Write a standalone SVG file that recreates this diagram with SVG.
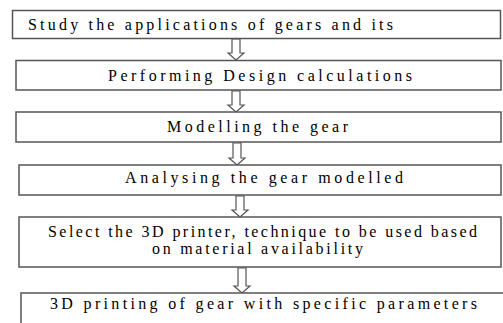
<svg xmlns="http://www.w3.org/2000/svg" width="503" height="323" viewBox="0 0 503 323">
<style>
.box{fill:#fff;stroke:#555;stroke-width:1.5}
.arr{fill:#fff;stroke:#555;stroke-width:1.2}
</style>
<rect width="503" height="323" fill="#fff"/>
<g id="connectors">
<path class="arr" d="M232,39 V53 H228 L236,60 L244,53 H240 V39 Z"/>
<path class="arr" d="M232,91 V105 H228 L236,112 L244,105 H240 V91 Z"/>
<path class="arr" d="M233,143 V158 H229 L237,165 L245,158 H241 V143 Z"/>
<path class="arr" d="M236,196 V210 H232 L240,217 L248,210 H244 V196 Z"/>
<path class="arr" d="M238,268 V286 H234 L242,293 L250,286 H246 V268 Z"/>
</g>
<g font-family="Liberation Serif, Times New Roman, serif" font-size="16" fill="#000">
<g id="n1">
<rect class="box" x="12.5" y="10.5" width="488" height="28"/>
<text x="28" y="30" textLength="365" lengthAdjust="spacing">Study the applications of gears and its</text>
</g>
<g id="n2">
<rect class="box" x="16" y="60.5" width="485" height="29.5"/>
<text x="108" y="81" textLength="304" lengthAdjust="spacing">Performing Design calculations</text>
</g>
<g id="n3">
<rect class="box" x="16" y="112" width="485" height="30"/>
<text x="167" y="132" textLength="181" lengthAdjust="spacing">Modelling the gear</text>
</g>
<g id="n4">
<rect class="box" x="19" y="165" width="482" height="30"/>
<text x="125" y="183" textLength="278" lengthAdjust="spacing">Analysing the gear modelled</text>
</g>
<g id="n5">
<rect class="box" x="19" y="217" width="482" height="50"/>
<text x="48" y="237" textLength="429" lengthAdjust="spacing">Select the 3D printer, technique to be used based</text>
<text x="152" y="254" textLength="211" lengthAdjust="spacing">on material availability</text>
</g>
<g id="n6">
<rect class="box" x="21" y="293" width="495" height="45"/>
<text x="50" y="309" textLength="427" lengthAdjust="spacing">3D printing of gear with specific parameters</text>
</g>
</g>
</svg>
